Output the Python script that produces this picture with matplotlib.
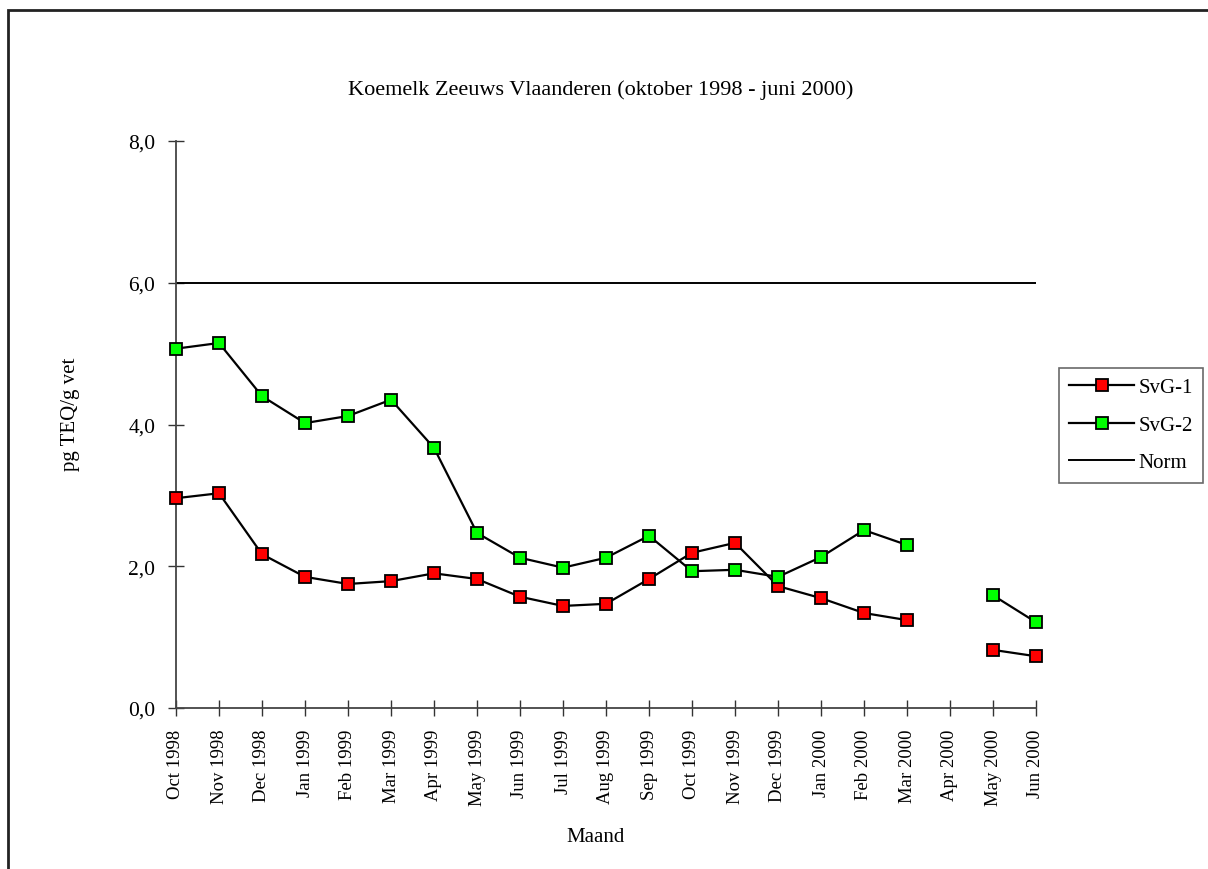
import numpy as np
import matplotlib
matplotlib.use("Agg")
import matplotlib.pyplot as plt
from matplotlib.patches import Rectangle

plt.rcParams['font.family'] = ['Liberation Serif', 'DejaVu Serif']

months = ["Oct 1998", "Nov 1998", "Dec 1998", "Jan 1999", "Feb 1999", "Mar 1999",
          "Apr 1999", "May 1999", "Jun 1999", "Jul 1999", "Aug 1999", "Sep 1999",
          "Oct 1999", "Nov 1999", "Dec 1999", "Jan 2000", "Feb 2000", "Mar 2000",
          "Apr 2000", "May 2000", "Jun 2000"]
svg1 = [2.96, 3.03, 2.17, 1.85, 1.75, 1.79, 1.90, 1.82, 1.57, 1.44, 1.47, 1.82,
        2.19, 2.33, 1.72, 1.55, 1.34, 1.24, np.nan, 0.82, 0.73]
svg2 = [5.07, 5.15, 4.40, 4.02, 4.12, 4.35, 3.67, 2.47, 2.12, 1.98, 2.12, 2.43,
        1.93, 1.95, 1.85, 2.13, 2.51, 2.30, np.nan, 1.59, 1.21]
norm = [6.0] * len(months)
yticks = [0.0, 2.0, 4.0, 6.0, 8.0]

W, H = 1208, 870
fig = plt.figure(figsize=(W / 100, H / 100), dpi=100)
ax = fig.add_axes([176 / W, (H - 709) / H, 860 / W, 567 / H])

x = np.arange(len(months))
l1, = ax.plot(x, svg1, color='black', lw=1.6, marker='s', ms=8.5,
              mfc='#ff0000', mec='black', mew=1.3, zorder=3, clip_on=False)
l2, = ax.plot(x, svg2, color='black', lw=1.6, marker='s', ms=8.5,
              mfc='#00ff00', mec='black', mew=1.3, zorder=3, clip_on=False)
l3, = ax.plot(x, norm, color='black', lw=1.4, zorder=2)

ax.set_xlim(0, len(months) - 1)
ax.set_ylim(0, 8)
ax.set_xticks(x)
ax.set_xticklabels(months, rotation=90, fontsize=13.5)
ax.set_yticks(yticks)
ax.set_yticklabels([f"{v:.1f}".replace('.', ',') for v in yticks], fontsize=15.5)
ax.tick_params(axis='both', direction='inout', length=12, width=1.0, color='#333333')
ax.tick_params(axis='x', pad=9)
ax.tick_params(axis='y', pad=9)
for s in ['top', 'right']:
    ax.spines[s].set_visible(False)
for s in ['left', 'bottom']:
    ax.spines[s].set_color('#444444')
    ax.spines[s].set_linewidth(1.3)

fig.text(601 / W, 1 - 90 / H, "Koemelk Zeeuws Vlaanderen (oktober 1998 - juni 2000)",
         ha='center', va='center', fontsize=16)
fig.text(596 / W, 1 - 838 / H, "Maand", ha='center', va='center', fontsize=15)
fig.text(70 / W, 1 - 414 / H, "pg TEQ/g vet", ha='center', va='center',
         rotation=90, fontsize=15)

leg = fig.legend([l1, l2, l3], ["SvG-1", "SvG-2", "Norm"],
                 loc='center', bbox_to_anchor=(1131 / W, 1 - 426 / H),
                 fontsize=15, frameon=True, fancybox=False, shadow=False,
                 handlelength=3.1, handletextpad=0.2, borderpad=0.5,
                 labelspacing=0.85, borderaxespad=0)
leg.get_frame().set_edgecolor('#444444')
leg.get_frame().set_linewidth(1.2)

fig.patches.append(Rectangle((8 / W, -0.1), 2, 1.1 - 11 / H, transform=fig.transFigure,
                             fill=False, edgecolor='#222222', lw=2, figure=fig))

fig.savefig("out.png", dpi=100)
